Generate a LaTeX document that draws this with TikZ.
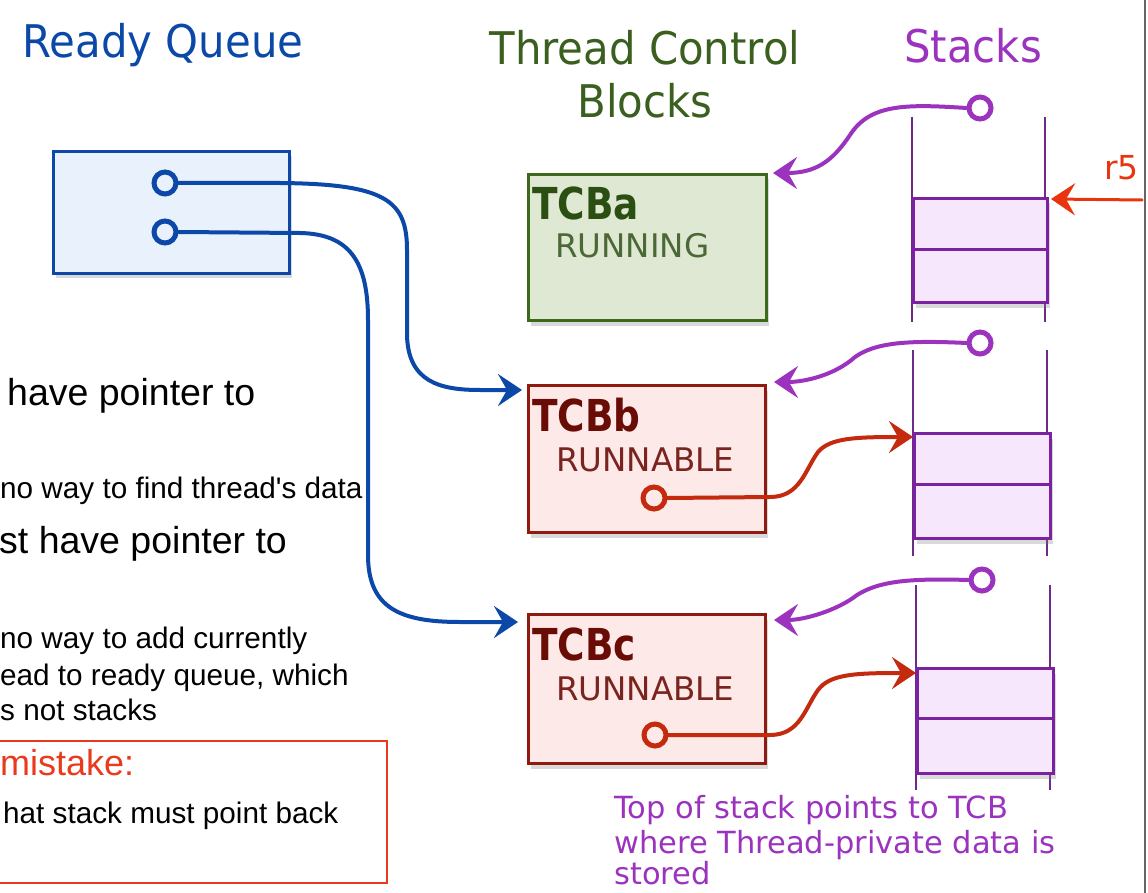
\documentclass[tikz,border=0pt]{standalone}
\usepackage{fontspec}
\setmainfont{Liberation Sans}
\newfontfamily\titlefont[FakeStretch=0.93]{DejaVu Sans}
\newfontfamily\lblfont{DejaVu Sans}
\newfontfamily\tcbboldfont[FakeStretch=0.85]{DejaVu Sans}
\usetikzlibrary{arrows.meta,shadows}
\definecolor{qblue}{HTML}{0B48A8}
\definecolor{qfill}{HTML}{E9F1FD}
\definecolor{tgreen}{HTML}{3A5F1E}
\definecolor{gborder}{HTML}{3C6A1C}
\definecolor{gfill}{HTML}{DFE8D3}
\definecolor{gtext}{HTML}{2B4E12}
\definecolor{rborder}{HTML}{8E1A10}
\definecolor{rfill}{HTML}{FDE9E8}
\definecolor{rtext}{HTML}{6A0C06}
\definecolor{rarrow}{HTML}{C42A0E}
\definecolor{ppl}{HTML}{9B33BE}
\definecolor{pborder}{HTML}{7A22A0}
\definecolor{pfill}{HTML}{F7E7FD}
\definecolor{pwall}{HTML}{6E2A8A}
\definecolor{rfive}{HTML}{E8350F}
\definecolor{boxred}{HTML}{EA3A1E}
\begin{document}
\begin{tikzpicture}[x=1pt,y=-1pt,
  title/.style={inner sep=0pt, anchor=base, font=\titlefont\fontsize{45}{54}\selectfont},
  bigtxt/.style={inner sep=0pt, anchor=base west, font=\fontsize{37.5}{44}\selectfont},
  smalltxt/.style={inner sep=0pt, anchor=base west, font=\fontsize{29.7}{36}\selectfont},
  shade/.style={drop shadow={opacity=0.3,shadow xshift=2pt,shadow yshift=-5pt}},
  box/.style={rectangle, draw, line width=3pt, anchor=north west, inner sep=0pt, shade},
  tcbname/.style={inner sep=0pt, anchor=base west, font=\tcbboldfont\bfseries\fontsize{44}{52}\selectfont},
  tcbstate/.style={inner sep=0pt, anchor=base west, font=\lblfont\fontsize{32.5}{38}\selectfont},
  cell/.style={rectangle, draw=pborder, fill=pfill, line width=3pt, anchor=north west, inner sep=0pt, minimum width=134pt, shade},
  wall/.style={draw=pwall, line width=1.5pt},
  port/.style={circle, draw=#1, line width=5pt, minimum size=22pt, inner sep=0pt},
  tip/.style={-{Stealth[length=24pt,width=32pt,inset=9pt]}},
  conn/.style={tip, line width=4pt, draw=#1, line cap=round},
  note/.style={inner sep=0pt, anchor=base west, text=ppl, font=\lblfont\fontsize{30.5}{38}\selectfont}
]
\useasboundingbox (0,0) rectangle (1148,893);

% titles
\node[title, text=qblue] (tq) at (163,58) {Ready Queue};
\node[title, text=tgreen] (tt1) at (645,65) {Thread Control};
\node[title, text=tgreen] (tt2) at (645,118) {Blocks};
\node[title, text=ppl] (ts) at (973,63) {Stacks};

% ready queue
\node[box, draw=qblue, fill=qfill, minimum width=236pt, minimum height=122pt] (rq) at (52,150) {};
\node[port=qblue] (q1) at (165,183) {};
\node[port=qblue] (q2) at (165,232) {};

% TCBs
\node[box, draw=gborder, fill=gfill, minimum width=238pt, minimum height=146pt] (tcba) at (527,173) {};
\node[tcbname, text=gtext] (na) at (532,220) {TCBa};
\node[tcbstate, text=gtext!85!white] (sa) at (555,258) {RUNNING};

\node[box, draw=rborder, fill=rfill, minimum width=237pt, minimum height=147pt] (tcbb) at (527,384) {};
\node[tcbname, text=rtext] (nb) at (532,431) {TCBb};
\node[tcbstate, text=rtext!90!white] (sb) at (556,471) {RUNNABLE};
\node[port=rarrow] (rb) at (654,498) {};

\node[box, draw=rborder, fill=rfill, minimum width=237pt, minimum height=149pt] (tcbc) at (527,613) {};
\node[tcbname, text=rtext] (nc) at (532,660) {TCBc};
\node[tcbstate, text=rtext!90!white] (scs) at (556,700) {RUNNABLE};
\node[port=rarrow] (rc) at (655,735) {};

% stacks
\draw[wall] (912,117) -- (912,322);
\draw[wall] (1045,117) -- (1045,322);
\node[cell, minimum height=51pt] (sa1) at (912,197) {};
\node[cell, minimum height=53pt] (sa2) at (912,248) {};
\node[port=ppl] (pa) at (980,108) {};

\draw[wall] (913,350) -- (913,556);
\draw[wall] (1047,350) -- (1047,556);
\node[cell, minimum width=136pt, minimum height=51pt] (sb1) at (913,432) {};
\node[cell, minimum width=136pt, minimum height=54pt] (sb2) at (913,483) {};
\node[port=ppl] (pb) at (980,343) {};

\draw[wall] (916,585) -- (916,790);
\draw[wall] (1050,585) -- (1050,790);
\node[cell, minimum width=136pt, minimum height=50pt] (sc1) at (916,667) {};
\node[cell, minimum width=136pt, minimum height=55pt] (sc2) at (916,717) {};
\node[port=ppl] (pc) at (982,580) {};

% r5
\node[inner sep=0pt, anchor=base west, text=rfive, font=\lblfont\fontsize{33}{40}\selectfont] (r5) at (1104,180) {r5};
\coordinate (r5s) at (1142,200);
\draw[conn=rfive, line width=3pt] (r5s) -- ([xshift=2pt,yshift=-2pt]sa1.north east);

% blue connectors
\draw[conn=qblue] (q1.east) -- (280,183) .. controls (385,184) and (407,200) .. (407,250) -- (407,335) .. controls (408,382) and (440,390) .. (480,390) -- ([xshift=-5pt,yshift=-6pt]tcbb.north west);
\draw[conn=qblue] (q2.east) -- (300,233) .. controls (350,234) and (368,262) .. (368,320) -- (368,555) .. controls (368,608) and (400,622) .. (460,622) -- ([xshift=-9pt,yshift=-9pt]tcbc.north west);

% purple connectors
\draw[conn=ppl] (pa.west) .. controls (905,104) and (870,104) .. (850,135) .. controls (832,162) and (815,173) .. ([xshift=5pt]tcba.north east);
\draw[conn=ppl] (pb.west) .. controls (905,340) and (875,343) .. (855,357) .. controls (835,375) and (805,382) .. ([xshift=7pt,yshift=2pt]tcbb.north east);
\draw[conn=ppl] (pc.west) .. controls (905,578) and (878,582) .. (857,595) .. controls (838,610) and (805,620) .. ([xshift=7pt,yshift=-7pt]tcbc.north east);

% red connectors
\draw[conn=rarrow] (rb.east) -- (770,497) .. controls (800,497) and (805,470) .. (818,452) .. controls (830,438) and (855,437) .. ([yshift=-5pt]sb1.north west);
\draw[conn=rarrow] (rc.east) -- (770,735) .. controls (800,735) and (805,708) .. (818,690) .. controls (830,674) and (855,673) .. ([yshift=-6pt]sc1.north west);

% left text
\node[bigtxt] (l1) at (7,405) {have pointer to};
\node[smalltxt] (l2) at (0,498) {no way to find thread\textquotesingle s data};
\node[bigtxt] (l3) at (-1,553) {st have pointer to};
\node[smalltxt] (l4) at (0,648) {no way to add currently};
\node[smalltxt] (l5) at (0,685) {ead to ready queue, which};
\node[smalltxt] (l6) at (0,720) {s not stacks};
\node[rectangle, draw=boxred, line width=2pt, anchor=north west, minimum width=391pt, minimum height=142pt, inner sep=0pt] (mbox) at (-5,740) {};
\node[inner sep=0pt, anchor=base west, text=boxred, font=\fontsize{36}{42}\selectfont] (m1) at (0,775) {mistake:};
\node[smalltxt] (m2) at (3,823) {hat stack must point back};

% bottom note
\node[note] (n1) at (614,818) {Top of stack points to TCB};
\node[note] (n2) at (614,853) {where Thread-private data is};
\node[note] (n3) at (614,884) {stored};

% slide edge
\draw[black!60, line width=1.5pt] (1145,0) -- (1145,893);
\end{tikzpicture}
\end{document}
